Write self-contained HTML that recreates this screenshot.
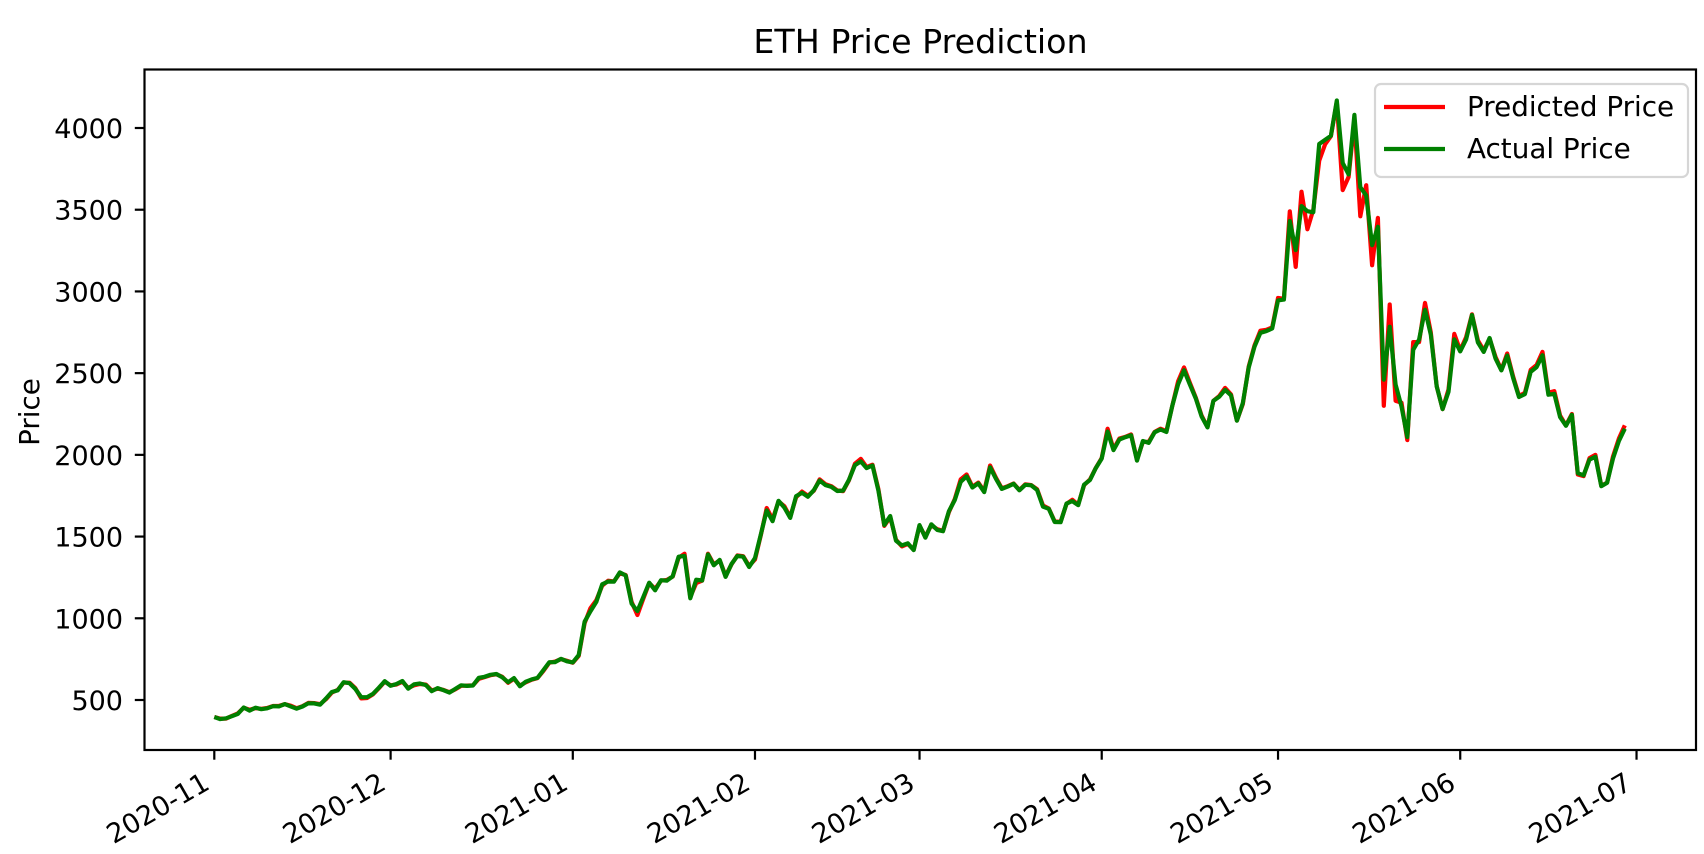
<!DOCTYPE html>
<html><head><meta charset="utf-8"><style>
html,body{margin:0;padding:0;background:#fff;}
svg{display:block;font-family:"DejaVu Sans","Liberation Sans",sans-serif;}
</style></head><body>
<svg id="chart" width="1704" height="854" xmlns="http://www.w3.org/2000/svg">
<text x="920.5" y="53" font-size="33.3" text-anchor="middle" fill="#000">ETH Price Prediction</text>
<text x="0" y="0" font-size="27.8" text-anchor="middle" transform="translate(39,412) rotate(-90)">Price</text>
<g id="plot"></g>
<rect x="144.5" y="69.5" width="1551.5" height="680.5" fill="none" stroke="#000" stroke-width="2.2"/>
<g id="yticks"></g>
<g id="xticks"></g>
<g>
<rect x="1375" y="84" width="313" height="93" rx="6" fill="#fff" fill-opacity="0.8" stroke="#d6d6d6" stroke-width="2.2"/>
<line x1="1384" y1="107" x2="1445" y2="107" stroke="#ff0000" stroke-width="4.2"/>
<text x="1467" y="116" font-size="27.8">Predicted Price</text>
<line x1="1384" y1="149" x2="1445" y2="149" stroke="#008000" stroke-width="4.2"/>
<text x="1467" y="158" font-size="27.8">Actual Price</text>
</g>
</svg>
<script>
const startDate = "2020-11-01";
const actualPrice = [396,383,388,401,415,454,435,453,444,449,462,461,475,461,447,460,480,479,471,509,549,559,609,603,568,518,517,538,575,615,
587,598,616,569,596,601,591,554,573,560,545,568,590,586,589,636,642,654,659,639,609,634,584,612,626,635,683,731,732,752,737,
730,775,979,1042,1100,1208,1225,1224,1281,1262,1090,1044,1130,1218,1171,1233,1230,1257,1377,1382,1122,1236,1231,1391,1324,1357,1253,1332,1382,1377,1314,
1369,1515,1660,1594,1719,1677,1614,1747,1768,1744,1784,1843,1815,1804,1779,1781,1848,1937,1960,1919,1935,1781,1570,1626,1475,1446,1459,1417,
1570,1493,1575,1541,1533,1655,1724,1835,1869,1800,1826,1772,1924,1854,1792,1806,1823,1783,1817,1814,1785,1683,1670,1589,1588,1702,1717,1692,1818,1846,1919,
1977,2143,2029,2094,2108,2120,1965,2085,2073,2138,2155,2140,2300,2432,2518,2430,2345,2235,2168,2331,2356,2398,2364,2209,2316,2534,2662,2747,2757,2773,
2945,2950,3431,3253,3522,3491,3484,3902,3928,3952,4168,3786,3716,4080,3638,3587,3283,3396,2460,2784,2430,2296,2109,2643,2706,2888,2736,2419,2280,2386,2707,
2633,2706,2856,2688,2630,2715,2590,2517,2608,2471,2354,2372,2508,2537,2610,2368,2373,2231,2178,2245,1888,1875,1971,1989,1808,1829,1978,2085,2160];
const predictedPrice = [396,386,386,403,418,452,440,450,446,451,463,464,474,465,450,462,482,481,474,505,545,562,606,606,572,510,512,535,572,612,
590,595,612,574,590,598,594,558,570,562,548,565,587,588,590,630,640,652,657,642,605,630,588,608,624,634,678,728,735,750,740,
728,770,970,1062,1110,1200,1230,1226,1275,1265,1100,1020,1120,1215,1180,1230,1235,1255,1370,1395,1130,1215,1230,1395,1330,1355,1260,1330,1385,1380,1320,
1360,1510,1675,1605,1715,1685,1620,1740,1775,1750,1780,1850,1820,1808,1782,1778,1845,1945,1975,1925,1940,1790,1565,1620,1480,1440,1455,1420,
1565,1500,1570,1545,1535,1650,1730,1850,1880,1805,1830,1778,1935,1860,1795,1808,1825,1785,1820,1815,1790,1690,1672,1592,1590,1700,1725,1695,1815,1850,1920,
1980,2160,2035,2100,2110,2125,1970,2080,2080,2140,2160,2145,2300,2450,2535,2440,2350,2240,2170,2330,2360,2410,2370,2210,2310,2540,2670,2760,2765,2780,
2960,2955,3490,3150,3610,3380,3500,3800,3900,3950,4160,3620,3700,4050,3460,3650,3160,3450,2300,2920,2330,2320,2090,2690,2690,2930,2750,2420,2280,2400,2740,
2640,2720,2860,2700,2640,2710,2600,2520,2620,2480,2360,2380,2520,2550,2630,2380,2390,2240,2180,2250,1880,1870,1980,2000,1810,1830,1990,2100,2180];
const yTicks = [500,1000,1500,2000,2500,3000,3500,4000];
const xTickLabels = ["2020-11","2020-12","2021-01","2021-02","2021-03","2021-04","2021-05","2021-06","2021-07"];
const xTickDays = [0,30,61,92,120,151,181,212,242];

const X0=214.3, PX_PER_DAY=5.877;
function xScale(d){return X0+d*PX_PER_DAY;}
function yScale(v){return 128+(4000-v)*(572/3500);}
const NS="http://www.w3.org/2000/svg";
const plot=document.getElementById('plot');
function drawLine(arr,color,name){
  const p=document.createElementNS(NS,'polyline');
  
  
  p.setAttribute('points',arr.map((v,i)=>xScale(i).toFixed(1)+','+yScale(v).toFixed(1)).join(' '));
  p.setAttribute('fill','none');p.setAttribute('stroke',color);
  p.setAttribute('stroke-width','4.2');p.setAttribute('stroke-linejoin','round');
  plot.appendChild(p);
}
drawLine(predictedPrice,'#ff0000','predicted-price-line');
drawLine(actualPrice,'#008000','actual-price-line');
const yg=document.getElementById('yticks');
yTicks.forEach(v=>{
  const y=yScale(v);
  const l=document.createElementNS(NS,'line');
  
  
  l.setAttribute('x1',134.8);l.setAttribute('x2',144.5);l.setAttribute('y1',y);l.setAttribute('y2',y);l.setAttribute('stroke','#000');l.setAttribute('stroke-width','2.2');
  yg.appendChild(l);
  const t=document.createElementNS(NS,'text');
  
  
  t.setAttribute('x',123);t.setAttribute('y',y+10);t.setAttribute('font-size','27');t.setAttribute('text-anchor','end');
  t.textContent=v;yg.appendChild(t);
});
const xg=document.getElementById('xticks');
xTickLabels.forEach((lab,i)=>{
  const x=xScale(xTickDays[i]);
  const l=document.createElementNS(NS,'line');
  
  
  l.setAttribute('x1',x);l.setAttribute('x2',x);l.setAttribute('y1',750);l.setAttribute('y2',759.7);l.setAttribute('stroke','#000');l.setAttribute('stroke-width','2.2');
  xg.appendChild(l);
  const t=document.createElementNS(NS,'text');
  
  
  t.setAttribute('font-size','27');t.setAttribute('text-anchor','end');
  t.setAttribute('transform','translate('+(x-3)+',788) rotate(-30)');
  t.textContent=lab;xg.appendChild(t);
});
</script>
</body></html>
